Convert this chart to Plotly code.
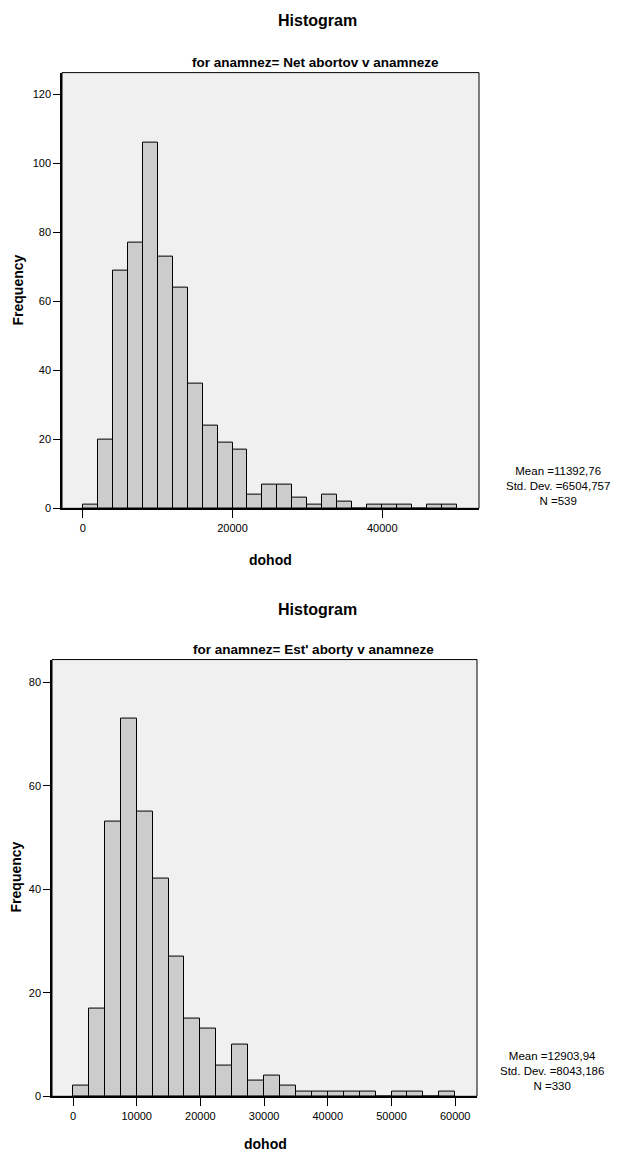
import plotly.graph_objects as go

# ---- data ----
top_bin_start = 0
top_bin_width = 2000
top_counts = [1, 20, 69, 77, 106, 73, 64, 36, 24, 19, 17, 4, 7, 7, 3, 1, 4, 2, 0, 1, 1, 1, 0, 1, 1]
top_title = "for anamnez= Net abortov v anamneze"
top_stats = ["Mean =11392,76", "Std. Dev. =6504,757", "N =539"]
top_xticks = [0, 20000, 40000]
top_yticks = [0, 20, 40, 60, 80, 100, 120]

bot_bin_start = 0
bot_bin_width = 2500
bot_counts = [2, 17, 53, 73, 55, 42, 27, 15, 13, 6, 10, 3, 4, 2, 1, 1, 1, 1, 1, 0, 1, 1, 0, 1]
bot_title = "for anamnez= Est' aborty v anamneze"
bot_stats = ["Mean =12903,94", "Std. Dev. =8043,186", "N =330"]
bot_xticks = [0, 10000, 20000, 30000, 40000, 50000, 60000]
bot_yticks = [0, 20, 40, 60, 80]

W, H = 617, 1160
FONT = "Liberation Sans Narrow, Arial Narrow, Liberation Sans, Arial, sans-serif"


def px(x):
    return x / W


def py(y):
    return 1 - y / H


def centers(start, width, counts):
    return [start + width * (i + 0.5) for i in range(len(counts))]


fig = go.Figure()
fig.add_trace(go.Bar(
    x=centers(top_bin_start, top_bin_width, top_counts), y=top_counts,
    width=top_bin_width, marker=dict(color="#CCCCCC", line=dict(color="black", width=1)),
    xaxis="x", yaxis="y", showlegend=False))
fig.add_trace(go.Bar(
    x=centers(bot_bin_start, bot_bin_width, bot_counts), y=bot_counts,
    width=bot_bin_width, marker=dict(color="#CCCCCC", line=dict(color="black", width=1)),
    xaxis="x2", yaxis="y2", showlegend=False))

axis_common = dict(showgrid=False, zeroline=False, showline=True, linecolor="black",
                   ticks="outside", tickcolor="black", tickformat="d",
                   tickfont=dict(family=FONT, size=11, color="black"))

fig.update_layout(
    width=W, height=H, margin=dict(l=0, r=0, t=0, b=0),
    paper_bgcolor="white", plot_bgcolor="#F0F0F0", bargap=0,
    font=dict(family=FONT, color="black"),
    xaxis=dict(domain=[px(62), px(479)], range=[-2764, 52910], tickvals=top_xticks,
               ticklen=8, linewidth=2, anchor="y", **axis_common),
    yaxis=dict(domain=[py(511), py(73)], range=[0, 126.2], tickvals=top_yticks,
               ticklen=7, linewidth=1.5, anchor="x", **axis_common),
    xaxis2=dict(domain=[px(52), px(477)], range=[-3297, 63422], tickvals=bot_xticks,
                ticklen=8, linewidth=2, anchor="y2", **axis_common),
    yaxis2=dict(domain=[py(1102), py(663)], range=[0, 84.4], tickvals=bot_yticks,
                ticklen=7, linewidth=1.5, anchor="x2", **axis_common),
)

# plot borders
for (x0, x1, y0, y1) in [(62, 479, 511, 73), (52, 477, 1102, 663)]:
    fig.add_shape(type="rect", xref="paper", yref="paper", x0=px(x0), x1=px(x1),
                  y0=py(y0), y1=py(y1), line=dict(color="black", width=1), layer="above")


def ann(text, x, y, size, bold=False, angle=0):
    fig.add_annotation(text=f"<b>{text}</b>" if bold else text, x=px(x), y=py(y),
                       xref="paper", yref="paper", showarrow=False, textangle=angle,
                       xanchor="center", yanchor="middle", align="center",
                       font=dict(family=FONT, size=size, color="black"))


# top chart texts
ann("Histogram", 317, 21, 16, bold=True)
ann(top_title, 315, 63, 13.5, bold=True)
ann("Frequency", 18, 292, 14, bold=True, angle=-90)
ann("dohod", 270, 563, 14, bold=True)
ann("<br>".join(top_stats), 558, 489, 11.5)

# bottom chart texts
ann("Histogram", 317, 613, 16, bold=True)
ann(bot_title, 313, 653, 13.5, bold=True)
ann("Frequency", 16, 882, 14, bold=True, angle=-90)
ann("dohod", 265, 1150, 14, bold=True)
ann("<br>".join(bot_stats), 552, 1077, 11.5)

fig.write_html("out.html", config={"displayModeBar": False},
               post_script="document.body.style.margin='0px';")
